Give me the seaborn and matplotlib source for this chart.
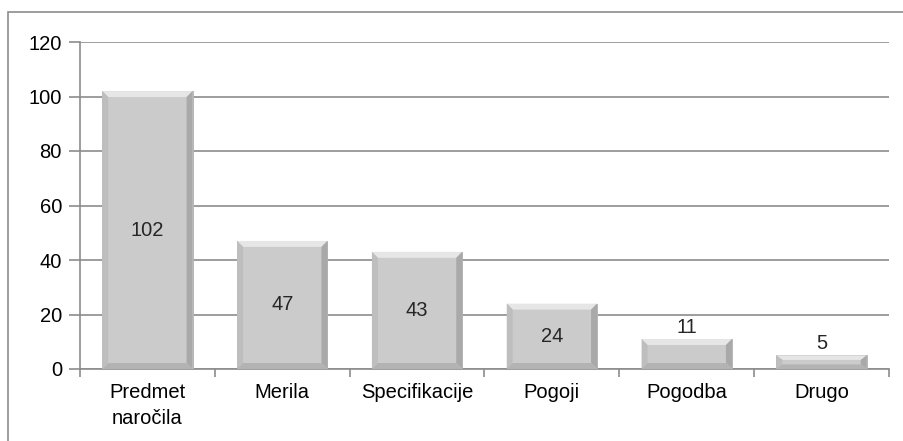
import matplotlib
matplotlib.use("Agg")
import matplotlib.pyplot as plt
from matplotlib.patches import Polygon, Rectangle
import seaborn as sns
import pandas as pd

# data
categories = ["Predmet\nnaročila", "Merila", "Specifikacije", "Pogoji", "Pogodba", "Drugo"]
values = [102, 47, 43, 24, 11, 5]
y_ticks = [0, 20, 40, 60, 80, 100, 120]

df = pd.DataFrame({"kategorija": categories, "stevilo": values})

sns.set_theme(style="white")
plt.rcParams["font.family"] = ["Liberation Sans", "DejaVu Sans"]
FS = 14.5

fig = plt.figure(figsize=(9.04, 4.41), dpi=100)
ax = fig.add_axes([80 / 904, 1 - 369 / 441, (889 - 80) / 904, (369 - 42) / 441])

sns.barplot(data=df, x="kategorija", y="stevilo", color="#cbcbcb", width=0.67,
            saturation=1, edgecolor="#b0b0b0", linewidth=0.6, ax=ax, zorder=3)

ax.set_ylim(0, 120)
ax.set_xlim(-0.5, len(categories) - 0.5)
ax.set_yticks(y_ticks)
ax.yaxis.grid(True, color="#8c8c8c", linewidth=1.2, zorder=0)
ax.set_axisbelow(True)
ax.set_xlabel("")
ax.set_ylabel("")

for s in ["top", "right"]:
    ax.spines[s].set_visible(False)
for s in ["left", "bottom"]:
    ax.spines[s].set_color("#8c8c8c")
    ax.spines[s].set_linewidth(1.2)

ax.set_xticks(range(len(categories)))
ax.set_xticklabels(categories, fontsize=FS, color="black", linespacing=1.45)
ax.tick_params(axis="x", length=0, pad=10)
ax.tick_params(axis="y", labelsize=FS, colors="black", length=8, width=1.2,
               color="#8c8c8c", left=True, pad=5)
ax.tick_params(axis="y", labelcolor="black")
# category boundary ticks on the x axis
ax.set_xticks([i - 0.5 for i in range(len(categories) + 1)], minor=True)
ax.tick_params(axis="x", which="minor", length=6, width=1.2, color="#8c8c8c", bottom=True)

# bevel effect from each bar's geometry
fig.canvas.draw()
inv = ax.transData.inverted()
bev_px = 6
for bar in ax.patches:
    x0, y0 = bar.get_x(), bar.get_y()
    w, h = bar.get_width(), bar.get_height()
    x1, y1 = x0 + w, y0 + h
    p0 = ax.transData.transform((x0, y0))
    dx = inv.transform((p0[0] + bev_px, p0[1]))[0] - x0
    dy = inv.transform((p0[0], p0[1] + bev_px))[1] - y0
    dy = min(dy, h / 3)
    faces = [
        ([(x0, y1), (x1, y1), (x1 - dx, y1 - dy), (x0 + dx, y1 - dy)], "#e6e6e6"),
        ([(x0, y0), (x0, y1), (x0 + dx, y1 - dy), (x0 + dx, y0 + dy)], "#bebebe"),
        ([(x1, y0), (x1, y1), (x1 - dx, y1 - dy), (x1 - dx, y0 + dy)], "#a9a9a9"),
        ([(x0, y0), (x1, y0), (x1 - dx, y0 + dy), (x0 + dx, y0 + dy)], "#b3b3b3"),
    ]
    for pts, c in faces:
        ax.add_patch(Polygon(pts, closed=True, facecolor=c, edgecolor="none", zorder=4))

# value labels: centred inside tall bars, above short ones
for bar, v in zip(ax.patches, values):
    xc = bar.get_x() + bar.get_width() / 2
    if v >= 20:
        ax.text(xc, v / 2, str(v), ha="center", va="center", fontsize=FS, zorder=5)
    else:
        ax.text(xc, v + 0.8, str(v), ha="center", va="bottom", fontsize=FS, zorder=5)

# outer chart border (only left and top visible in the crop)
fig.add_artist(Rectangle((8 / 904, -0.1), 1.2, 1 - 12 / 441 + 0.1, transform=fig.transFigure,
                         fill=False, edgecolor="#8c8c8c", linewidth=1.2))

plt.savefig("out.png", dpi=100, facecolor="white")
